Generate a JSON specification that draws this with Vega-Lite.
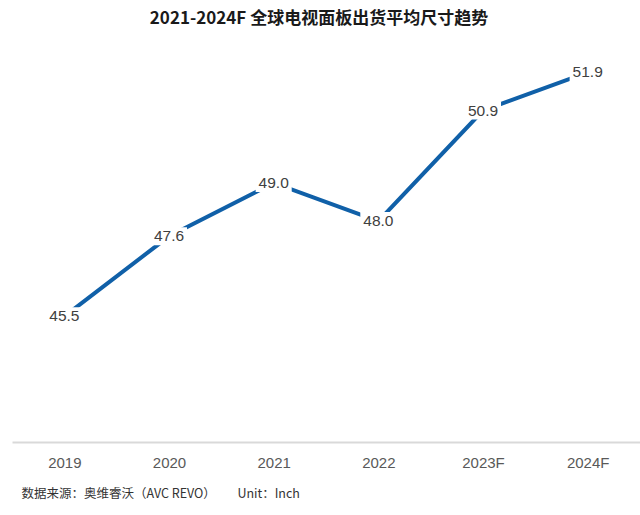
{
  "$schema": "https://vega.github.io/schema/vega-lite/v6.json",
  "width": 628,
  "height": 400,
  "autosize": "none",
  "padding": {"left": 12, "top": 42, "right": 0, "bottom": 73},
  "background": "white",
  "title": {
    "text": "2021-2024F 全球电视面板出货平均尺寸趋势",
    "font": "Noto Sans CJK SC",
    "fontSize": 17,
    "fontWeight": "bold",
    "color": "#1a1a1a",
    "anchor": "middle",
    "dx": -7,
    "offset": 14
  },
  "data": {
    "values": [
      {"year": "2019", "value": 45.5},
      {"year": "2020", "value": 47.6},
      {"year": "2021", "value": 49.0},
      {"year": "2022", "value": 48.0},
      {"year": "2023F", "value": 50.9},
      {"year": "2024F", "value": 51.9}
    ]
  },
  "encoding": {
    "x": {
      "field": "year",
      "type": "ordinal",
      "sort": null,
      "axis": {
        "labelAngle": 0,
        "domain": true,
        "domainColor": "#d9d9d9",
        "domainWidth": 2,
        "ticks": false,
        "grid": false,
        "labelFont": "Liberation Sans",
        "labelFontSize": 15,
        "labelColor": "#595959",
        "labelPadding": 13,
        "title": "数据来源：奥维睿沃（AVC REVO）　　 Unit：Inch",
        "titleX": 9,
        "titleY": 51,
        "titleAlign": "left",
        "titleBaseline": "middle",
        "titleFont": "Noto Sans CJK SC",
        "titleFontSize": 12.5,
        "titleFontWeight": "normal",
        "titleColor": "#333333"
      }
    },
    "y": {
      "field": "value",
      "type": "quantitative",
      "scale": {"domain": [42.2, 52.7], "nice": false, "zero": false},
      "axis": null
    }
  },
  "layer": [
    {"mark": {"type": "line", "color": "#1060a8", "strokeWidth": 4}},
    {"mark": {"type": "point", "shape": "M-1,-0.5H1V0.5H-1Z", "filled": true, "color": "white", "opacity": 1, "size": 1300}},
    {
      "mark": {"type": "text", "font": "Liberation Sans", "fontSize": 15.5, "color": "#404040"},
      "encoding": {"text": {"field": "value", "type": "quantitative", "format": ".1f"}}
    }
  ],
  "config": {"view": {"stroke": null}}
}
